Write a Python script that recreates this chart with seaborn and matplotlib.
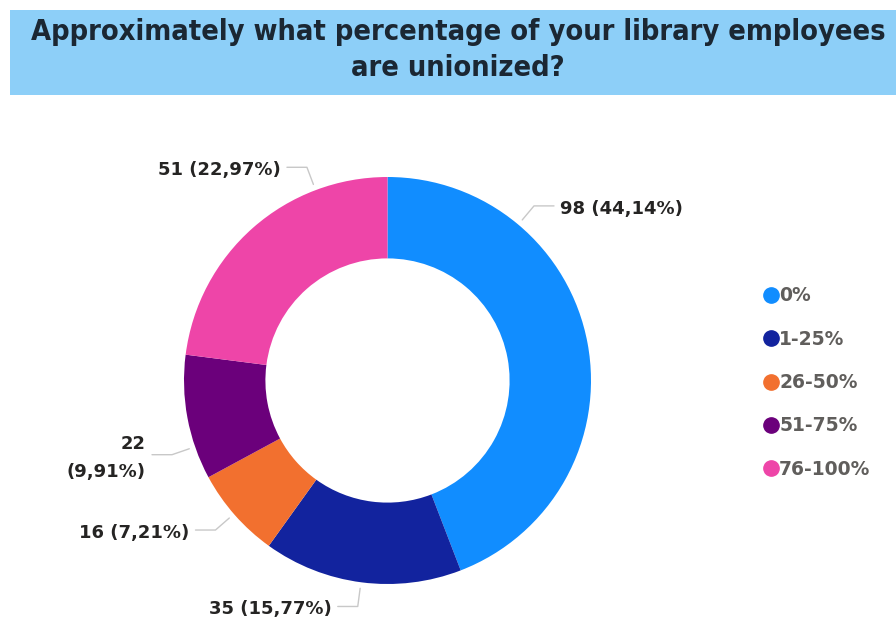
import numpy as np
import matplotlib
matplotlib.use("Agg")
import matplotlib.pyplot as plt
from matplotlib.patches import Rectangle
from matplotlib.lines import Line2D
import seaborn as sns

# Survey answers
categories = ["0%", "1-25%", "26-50%", "51-75%", "76-100%"]
counts = [98, 35, 16, 22, 51]
value_labels = ["98 (44,14%)", "35 (15,77%)", "16 (7,21%)", "22\n(9,91%)", "51 (22,97%)"]
title = "Approximately what percentage of your library employees\nare unionized?"

# Layout of the data labels: angle (deg) where each leader line meets the ring
label_angles = [50.0, 262.5, 221.0, 199.0, 110.7]

sns.set_theme(style="white")
palette = sns.color_palette(["#118DFF", "#12239E", "#F2702F", "#6B007B", "#EE45A8"])
plt.rcParams["font.family"] = ["DejaVu Sans"]

W, H = 896, 619
fig = plt.figure(figsize=(W / 100, H / 100), dpi=100)
fig.patch.set_facecolor("white")

# Title band
fig.patches.append(Rectangle((10 / W, 1 - 95 / H), 1 - 10 / W, 85 / H,
                             transform=fig.transFigure, facecolor="#8DCFF8",
                             edgecolor="none", zorder=0))
fig.text(458 / W, 1 - 50 / H, title, ha="center", va="center",
         fontsize=20.8, fontweight="bold", color="#1B2733",
         family="DejaVu Sans", fontstretch="condensed", linespacing=1.32)

# Donut
cx, cy, R = 387.5, 380.5, 203.5
half = 230
ax = fig.add_axes([(cx - half) / W, (H - cy - half) / H, 2 * half / W, 2 * half / H])

ax.pie(counts, colors=palette, startangle=90, counterclock=False, radius=1.0,
       wedgeprops=dict(width=0.4, edgecolor="none", linewidth=0))

lim = half / R
ax.set_xlim(-lim, lim)
ax.set_ylim(-lim, lim)
ax.set_aspect("equal")
ax.axis("off")

# Leader lines and value labels
seg = 20 / R
gap = 6 / R
for txt, ang in zip(value_labels, label_angles):
    a = np.deg2rad(ang)
    x0, y0 = 1.03 * np.cos(a), 1.03 * np.sin(a)
    x1, y1 = 1.12 * np.cos(a), 1.12 * np.sin(a)
    side = 1 if np.cos(a) > 0 else -1
    x2 = x1 + side * seg
    ax.plot([x0, x1, x2], [y0, y1, y1], color="#C8C8C8", lw=1.0,
            solid_capstyle="round", clip_on=False)
    ax.text(x2 + side * gap, y1 - 3 / R, txt, ha="left" if side > 0 else "right",
            va="center", fontsize=13, fontweight="bold", color="#252423",
            linespacing=1.7)

# Legend
handles = [Line2D([0], [0], marker="o", linestyle="none", markersize=11,
                  markerfacecolor=c, markeredgecolor=c) for c in palette]
leg = fig.legend(handles, categories, loc="upper left",
                 bbox_to_anchor=(751 / W, 1 - 277 / H), frameon=False,
                 fontsize=13.5, handletextpad=-0.1, labelspacing=1.3,
                 handlelength=1.1, borderpad=0)
for t in leg.get_texts():
    t.set_color("#605E5C")
    t.set_fontweight("bold")

fig.savefig("out.png", dpi=100, facecolor="white")
